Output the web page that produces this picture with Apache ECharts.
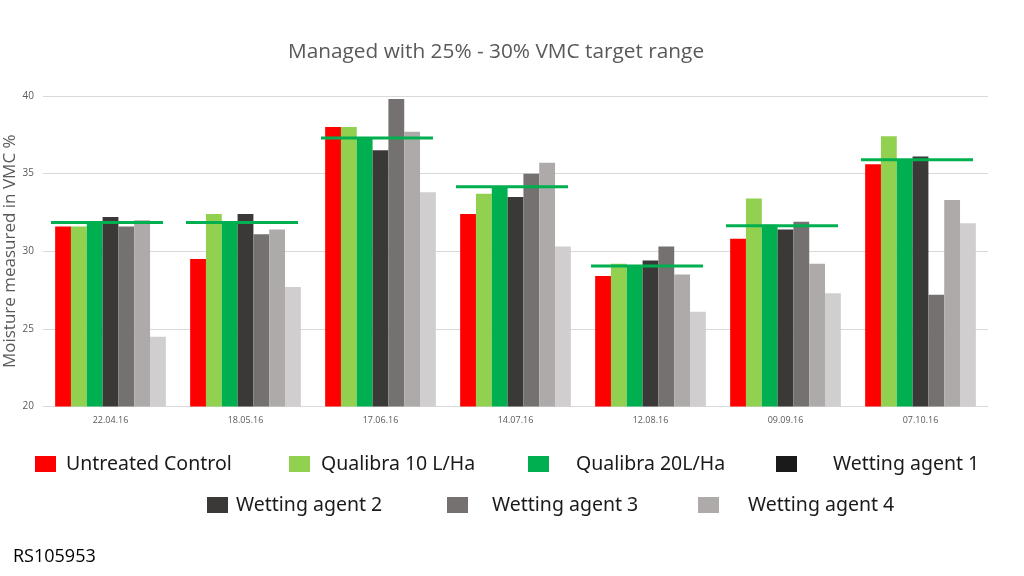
<!DOCTYPE html>
<html><head><meta charset="utf-8">
<script src="https://cdn.jsdelivr.net/npm/echarts@6/dist/echarts.min.js"></script>
<style>html,body{margin:0;padding:0;background:#fff}#c{width:1024px;height:576px}</style>
</head><body><div id="c"></div>
<script>
const categories = ['22.04.16','18.05.16','17.06.16','14.07.16','12.08.16','09.09.16','07.10.16'];
const seriesNames = ['Untreated Control','Qualibra 10 L/Ha','Qualibra 20L/Ha','Wetting agent 1','Wetting agent 2','Wetting agent 3','Wetting agent 4'];
const untreated = [31.6, 29.5, 38.0, 32.4, 28.4, 30.8, 35.6];
const qualibra10 = [31.6, 32.4, 38.0, 33.7, 29.2, 33.4, 37.4];
const qualibra20 = [31.8, 31.8, 37.3, 34.1, 29.1, 31.7, 35.9];
const wetting1 = [32.2, 32.4, 36.5, 33.5, 29.4, 31.4, 36.1];
const wetting2 = [31.6, 31.1, 39.8, 35.0, 30.3, 31.9, 27.2];
const wetting3 = [32.0, 31.4, 37.7, 35.7, 28.5, 29.2, 33.3];
const wetting4 = [24.5, 27.7, 33.8, 30.3, 26.1, 27.3, 31.8];
const targetLine = [31.85, 31.85, 37.3, 34.15, 29.05, 31.65, 35.9];
const yTicks = [20, 25, 30, 35, 40];

const values = [untreated, qualibra10, qualibra20, wetting1, wetting2, wetting3, wetting4];
const barColors = ['#ff0000','#92d050','#00b050','#3b3838','#767171','#aeaaaa','#d0cece'];
const legendColors = ['#ff0000','#92d050','#00b050','#1a1a1a','#3b3838','#767171','#aeaaaa'];
const legendPos = [
  {left:35, top:454, gap:5}, {left:289, top:454, gap:6}, {left:528, top:454, gap:22}, {left:776, top:454, gap:31},
  {left:207, top:495, gap:3}, {left:447, top:495, gap:19}, {left:698, top:495, gap:24}
];

const chart = echarts.init(document.getElementById('c'));
const series = seriesNames.map((n,i)=>({
  name:n, type:'bar', data:values[i], barGap:'0%', barCategoryGap:'18%',
  itemStyle:{color:barColors[i]}, emphasis:{disabled:true}
}));
series.push({
  name:'target', type:'scatter', data:targetLine, symbol:'rect', symbolSize:[112,3], symbolOffset:[-3.5,0],
  itemStyle:{color:'#00b050', opacity:1}, z:5, silent:true
});
const legends = seriesNames.map((n,i)=>({
  data:[{name:n, itemStyle:{color:legendColors[i]}}],
  left:legendPos[i].left, top:legendPos[i].top, orient:'horizontal',
  icon:'rect', itemWidth:21, itemHeight:16, padding:0, selectedMode:false,
  textStyle:{fontFamily:'Noto Sans', fontSize:19.5, color:'#1a1a1a', padding:[0,0,0,legendPos[i].gap]}
}));
chart.setOption({
  animation:false,
  title:{text:'Managed with 25% - 30% VMC target range', left:283, top:37,
    textStyle:{fontFamily:'Open Sans', fontSize:20.8, fontWeight:'normal', color:'#595959'}},
  legend:legends,
  grid:{left:43, right:36, top:96, bottom:169.5, outerBoundsMode:'none', containLabel:false},
  xAxis:{type:'category', data:categories,
    axisLine:{lineStyle:{color:'#d9d9d9'}}, axisTick:{show:false},
    axisLabel:{fontFamily:'Open Sans', fontSize:9, color:'#595959', margin:9}},
  yAxis:{type:'value', min:20, max:40, interval:5,
    name:'Moisture measured in VMC %', nameLocation:'middle', nameGap:24, nameMoveOverlap:false,
    nameTextStyle:{fontFamily:'Open Sans', fontSize:17, color:'#595959'},
    axisLine:{show:false}, axisTick:{show:false},
    axisLabel:{fontFamily:'Open Sans', fontSize:10, color:'#595959', margin:9,
      formatter:v=>yTicks.includes(v)?String(v):''},
    splitLine:{lineStyle:{color:'#d9d9d9'}}},
  graphic:[{type:'text', left:13, top:548, style:{text:'RS105953', fontFamily:'Open Sans', fontSize:18, fill:'#000'}}],
  series:series
});
</script></body></html>
